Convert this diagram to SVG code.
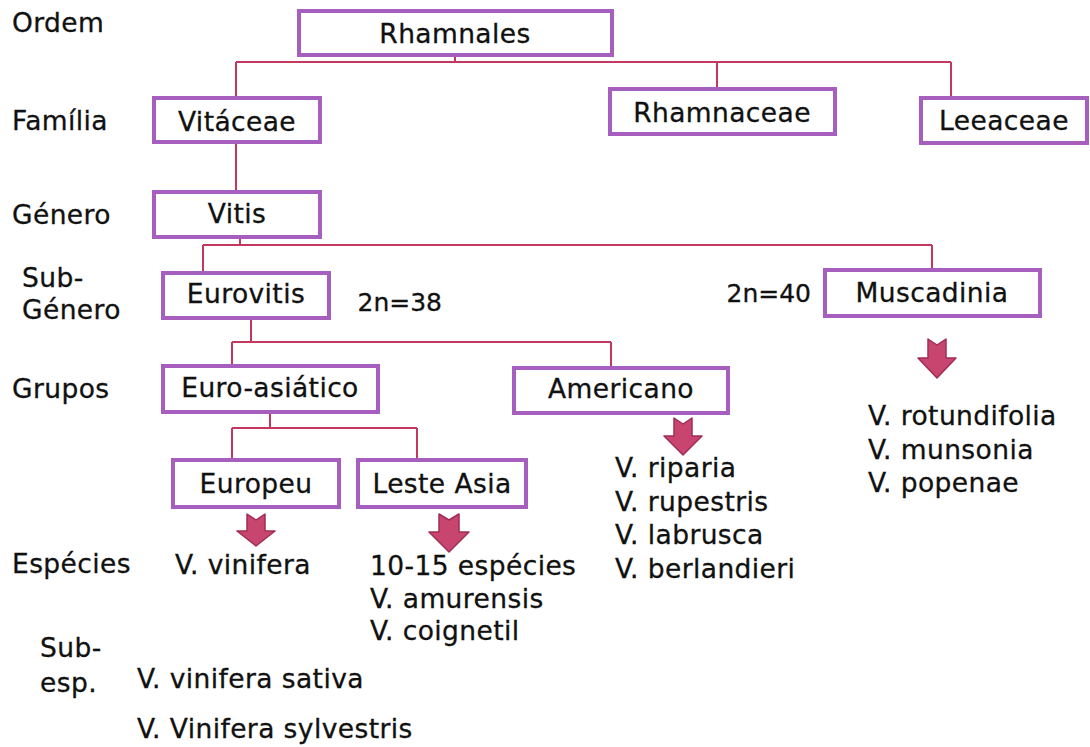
<svg xmlns="http://www.w3.org/2000/svg" width="1090" height="747" viewBox="0 0 1090 747">
<style>
text{font-family:"DejaVu Sans","Verdana",sans-serif;font-size:26.5px;letter-spacing:0.4px;fill:#111;stroke:#111;stroke-width:0.3}
.box{fill:#fff;stroke:#a65fbe;stroke-width:4}
.c{text-anchor:middle}
.e{text-anchor:end;font-size:25px;letter-spacing:0}
.ln{fill:none;stroke:#c2385f;stroke-width:2}
.ar{fill:#c8456f;stroke:#a02d55;stroke-width:1.5;stroke-linejoin:round}
</style>
<rect width="1090" height="747" fill="#fff"/>
<g id="connectors">
<path class="ln" d="M455 55V62M236 62H951M236 62V97M717 62V88M951 62V97"/>
<path class="ln" d="M236 143V191"/>
<path class="ln" d="M240 237V245M203 245H932M203 245V272M932 245V269"/>
<path class="ln" d="M251 318V342M232 342H611M232 342V366M611 342V367"/>
<path class="ln" d="M270 413V428M232 428H417M232 428V459M417 428V459"/>
</g>
<g id="labels">
<text x="12" y="32">Ordem</text>
<text x="12" y="130">Família</text>
<text x="12" y="224">Género</text>
<text x="22" y="287">Sub-</text>
<text x="22" y="319">Género</text>
<text x="12" y="398">Grupos</text>
<text x="12" y="573">Espécies</text>
<text x="40" y="657">Sub-</text>
<text x="40" y="692">esp.</text>
</g>
<g id="rhamnales"><rect class="box" x="299" y="11" width="313" height="44"/><text class="c" x="455" y="43">Rhamnales</text></g>
<g id="vitaceae"><rect class="box" x="154" y="98" width="166" height="44"/><text class="c" x="237" y="131">Vitáceae</text></g>
<g id="rhamnaceae"><rect class="box" x="610" y="89" width="225" height="45"/><text class="c" x="722" y="122">Rhamnaceae</text></g>
<g id="leeaceae"><rect class="box" x="921" y="98" width="166" height="45"/><text class="c" x="1004" y="130">Leeaceae</text></g>
<g id="vitis"><rect class="box" x="154" y="192" width="166" height="45"/><text class="c" x="237" y="223">Vitis</text></g>
<g id="eurovitis"><rect class="box" x="163" y="273" width="166" height="45"/><text class="c" x="246" y="303">Eurovitis</text></g>
<text class="e" x="442" y="311">2n=38</text>
<text class="e" x="811" y="302">2n=40</text>
<g id="muscadinia"><rect class="box" x="825" y="270" width="215" height="46"/><text class="c" x="932" y="302">Muscadinia</text></g>
<g id="euroasiatico"><rect class="box" x="163" y="366" width="215" height="46"/><text class="c" x="270" y="397">Euro-asiático</text></g>
<g id="americano"><rect class="box" x="514" y="368" width="214" height="45"/><text class="c" x="621" y="398">Americano</text></g>
<g id="europeu"><rect class="box" x="173" y="460" width="166" height="47"/><text class="c" x="256" y="493">Europeu</text></g>
<g id="lesteasia"><rect class="box" x="358" y="460" width="168" height="47"/><text class="c" x="442" y="493">Leste Asia</text></g>
<g id="arrows">
<path class="ar" d="M247 514L256 520L265 514V531H275L256 546L237 531H247Z"/>
<path class="ar" d="M439 514L449 520L459 514V532H469L449 552L429 532H439Z"/>
<path class="ar" d="M674 418L683 424L692 418V436H702L683 455L664 436H674Z"/>
<path class="ar" d="M928 339L937 345L946 339V358H956L937 378L918 358H928Z"/>
</g>
<g id="species">
<text x="175" y="574">V. vinifera</text>
<text x="370" y="575">10-15 espécies</text>
<text x="370" y="608">V. amurensis</text>
<text x="370" y="640">V. coignetil</text>
<text x="615" y="477">V. riparia</text>
<text x="615" y="511">V. rupestris</text>
<text x="615" y="544">V. labrusca</text>
<text x="615" y="578">V. berlandieri</text>
<text x="868" y="425">V. rotundifolia</text>
<text x="868" y="459">V. munsonia</text>
<text x="868" y="492">V. popenae</text>
<text x="137" y="688">V. vinifera sativa</text>
<text x="137" y="738">V. Vinifera sylvestris</text>
</g>
</svg>
